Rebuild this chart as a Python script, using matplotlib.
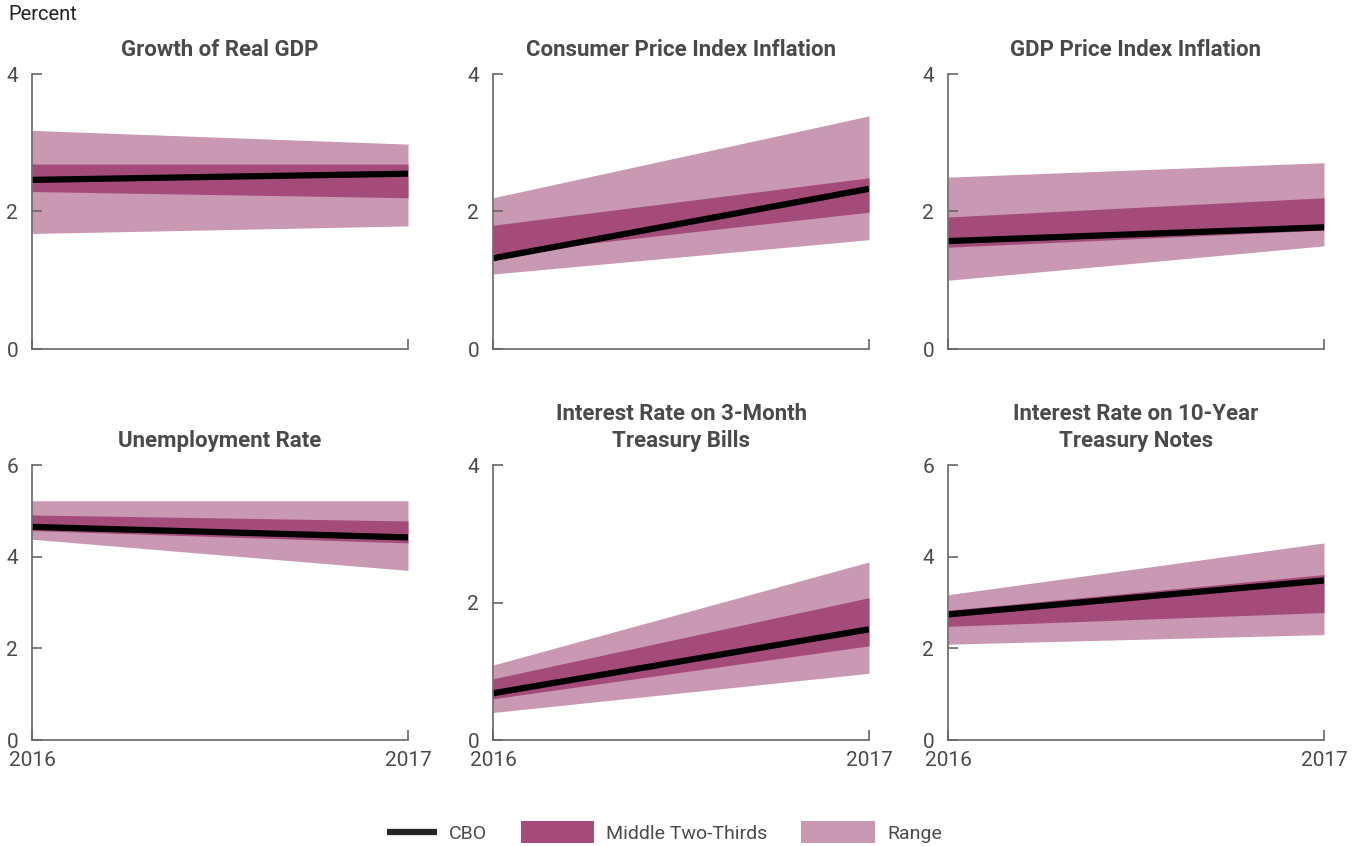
import matplotlib
matplotlib.use('Agg')
import matplotlib.pyplot as plt
from matplotlib.lines import Line2D
from matplotlib.patches import Patch
from matplotlib.legend_handler import HandlerBase

matplotlib.rcParams['font.family'] = ['Roboto', 'DejaVu Sans']

years = [2016, 2017]

titles = ['Growth of Real GDP', 'Consumer Price Index Inflation', 'GDP Price Index Inflation',
          'Unemployment Rate', 'Interest Rate on 3-Month\nTreasury Bills',
          'Interest Rate on 10-Year\nTreasury Notes']
y_max = [4, 4, 4, 6, 4, 6]

# CBO projection, 2016 and 2017
cbo = [[2.46, 2.55], [1.32, 2.33], [1.57, 1.77],
       [4.65, 4.42], [0.68, 1.61], [2.74, 3.48]]
# middle two-thirds of Blue Chip forecasts
mid_low = [[2.29, 2.20], [1.38, 1.99], [1.48, 1.73],
           [4.57, 4.30], [0.60, 1.37], [2.48, 2.78]]
mid_high = [[2.69, 2.69], [1.80, 2.49], [1.92, 2.20],
            [4.91, 4.78], [0.89, 2.07], [2.83, 3.61]]
# full range
rng_low = [[1.68, 1.79], [1.09, 1.59], [1.00, 1.50],
           [4.38, 3.70], [0.40, 0.97], [2.09, 2.30]]
rng_high = [[3.18, 2.98], [2.20, 3.39], [2.50, 2.71],
            [5.22, 5.22], [1.09, 2.59], [3.17, 4.30]]

range_color = '#c999b4'
mid_color = '#a54b7a'
axis_color = '#666666'
text_color = '#4a4a4a'


class ShortLineHandler(HandlerBase):
  # legend line is shorter than the patch handles, right aligned
  def create_artists(self, legend, orig_handle, xdescent, ydescent,
                     width, height, fontsize, trans):
    x1 = width - xdescent
    x0 = x1 - width * 0.67
    y = height / 2 - ydescent
    line = Line2D([x0, x1], [y, y], color=orig_handle.get_color(),
                  linewidth=orig_handle.get_linewidth(), solid_capstyle='butt')
    line.set_transform(trans)
    return [line]


W, H = 1359, 846
fig = plt.figure(figsize=(W / 100, H / 100), dpi=100)

col_left = [32, 493, 948]
ax_w = 376
row_top = [74, 465]
ax_h = 275

for i in range(6):
  r, c = divmod(i, 3)
  left = col_left[c] / W
  bottom = 1 - (row_top[r] + ax_h) / H
  ax = fig.add_axes([left, bottom, ax_w / W, ax_h / H])

  ax.fill_between(years, rng_low[i], rng_high[i], color=range_color, linewidth=0)
  ax.fill_between(years, mid_low[i], mid_high[i], color=mid_color, linewidth=0)
  ax.plot(years, cbo[i], color='black', linewidth=4.5, solid_capstyle='butt')

  ax.set_xlim(2016, 2017)
  ax.set_ylim(0, y_max[i])
  ax.set_yticks(range(0, y_max[i] + 1, 2))
  ax.set_xticks(years)
  if r == 0:
    ax.set_xticklabels([])
  else:
    ax.set_xticklabels([str(y) for y in years])

  for pos in ['top', 'right']:
    ax.spines[pos].set_visible(False)
  for pos in ['left', 'bottom']:
    ax.spines[pos].set_color(axis_color)
    ax.spines[pos].set_linewidth(1.2)
  ax.tick_params(direction='in', length=7, width=1.2, color=axis_color,
                 labelcolor=text_color, labelsize=15)
  ax.tick_params(axis='y', pad=10)
  ax.tick_params(axis='x', pad=8)

  ax.set_title(titles[i], fontsize=16, fontweight='bold', color=text_color,
               pad=13, linespacing=1.3)

fig.text(8 / W, 1 - 15 / H, 'Percent', fontsize=14.5, color='#222222',
         ha='left', va='center')

cbo_handle = Line2D([0], [0], color='#222222', linewidth=4.5)
handles = [cbo_handle,
           Patch(facecolor=mid_color, linewidth=0),
           Patch(facecolor=range_color, linewidth=0)]
labels = ['CBO', 'Middle Two-Thirds', 'Range']
leg = fig.legend(handles, labels, loc='center', bbox_to_anchor=(0.48, 1 - 832 / H),
                 ncol=3, frameon=False, fontsize=14, handlelength=3.8, handleheight=1.3,
                 columnspacing=1.75, handletextpad=0.6,
                 handler_map={cbo_handle: ShortLineHandler()})
for t in leg.get_texts():
  t.set_color(text_color)

plt.savefig('out.png', dpi=100)
plt.close()
